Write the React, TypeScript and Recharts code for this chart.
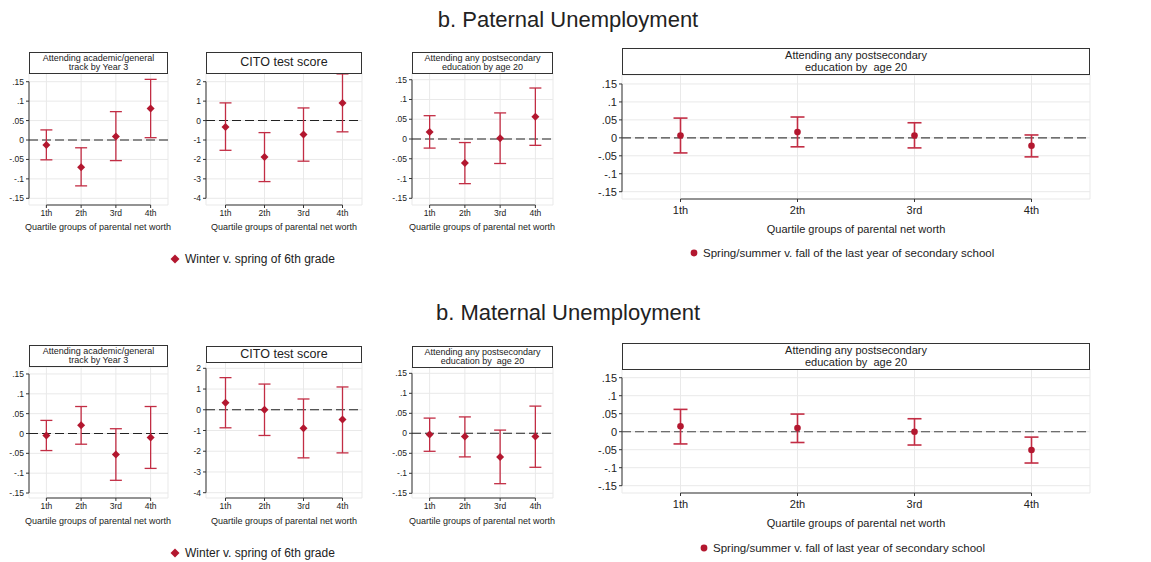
import React from 'react'
import {
  ComposedChart,
  Scatter,
  ErrorBar,
  XAxis,
  YAxis,
  CartesianGrid,
  ReferenceLine,
} from 'recharts'

const quartiles = ['1th', '2th', '3rd', '4th']
const shareTicks = [-0.15, -0.1, -0.05, 0, 0.05, 0.1, 0.15]
const citoTicks = [-4, -3, -2, -1, 0, 1, 2]

// b. Paternal unemployment
const patTrackEst = [-0.013, -0.07, 0.009, 0.081]
const patTrackLo = [-0.051, -0.118, -0.053, 0.006]
const patTrackHi = [0.026, -0.02, 0.073, 0.156]

const patCitoEst = [-0.33, -1.87, -0.72, 0.91]
const patCitoLo = [-1.53, -3.14, -2.09, -0.58]
const patCitoHi = [0.91, -0.62, 0.65, 2.4]

const patPostEst = [0.018, -0.061, 0.002, 0.056]
const patPostLo = [-0.023, -0.113, -0.062, -0.016]
const patPostHi = [0.059, -0.009, 0.066, 0.129]

const patAge20Est = [0.0065, 0.016, 0.0065, -0.022]
const patAge20Lo = [-0.042, -0.025, -0.028, -0.053]
const patAge20Hi = [0.055, 0.058, 0.042, 0.008]

// b. Maternal unemployment
const matTrackEst = [-0.005, 0.021, -0.053, -0.01]
const matTrackLo = [-0.043, -0.027, -0.118, -0.088]
const matTrackHi = [0.033, 0.068, 0.012, 0.068]

const matCitoEst = [0.34, 0.0, -0.89, -0.47]
const matCitoLo = [-0.87, -1.24, -2.32, -2.08]
const matCitoHi = [1.55, 1.24, 0.52, 1.1]

const matPostEst = [-0.003, -0.008, -0.059, -0.008]
const matPostLo = [-0.045, -0.059, -0.126, -0.085]
const matPostHi = [0.038, 0.041, 0.008, 0.068]

const matAge20Est = [0.015, 0.01, 0.0, -0.051]
const matAge20Lo = [-0.034, -0.03, -0.037, -0.087]
const matAge20Hi = [0.062, 0.049, 0.036, -0.015]

const MARK = '#b3172f'
const BAR = '#c22d44'
const FONT = '"Liberation Sans", Arial, sans-serif'
const TEXT = '#222'

const fmtShare = (v: number) => (v === 0 ? '0' : String(v).replace('0.', '.'))

const Diamond = (props: any) => {
  const { cx, cy } = props
  const r = 4
  return (
    <polygon
      points={`${cx},${cy - r} ${cx + r},${cy} ${cx},${cy + r} ${cx - r},${cy}`}
      fill={MARK}
    />
  )
}

const Dot = (props: any) => <circle cx={props.cx} cy={props.cy} r={3.3} fill={MARK} />

interface PanelProps {
  left: number
  top: number
  width: number
  height: number
  domain: [number, number]
  ticks: number[]
  est: number[]
  lo: number[]
  hi: number[]
  big?: boolean
}

function Panel({ left, top, width, height, domain, ticks, est, lo, hi, big }: PanelProps) {
  const data = est.map((v, i) => ({ x: i + 1, y: v, err: [v - lo[i], hi[i] - v] }))
  const yW = 32
  const xH = 24
  const fs = big ? 11 : 8.5
  const isShare = ticks === shareTicks
  return (
    <div style={{ position: 'absolute', left: left - yW, top }}>
      <ComposedChart
        width={yW + width + 2}
        height={height + xH}
        data={data}
        margin={{ top: 0, right: 2, bottom: 0, left: 0 }}
      >
        <CartesianGrid stroke="#e9e9e9" strokeWidth={1} />
        <XAxis
          type="number"
          dataKey="x"
          domain={[0.5, 4.5]}
          ticks={[1, 2, 3, 4]}
          interval={0}
          allowDataOverflow
          height={xH}
          axisLine={false}
          tickSize={3}
          tickMargin={big ? 4 : 2}
          tickLine={{ stroke: '#333' }}
          tick={{ fontSize: fs, fill: TEXT, fontFamily: FONT }}
          tickFormatter={(v: number) => quartiles[v - 1]}
        />
        <YAxis
          type="number"
          dataKey="y"
          domain={domain}
          ticks={ticks}
          interval={0}
          allowDataOverflow
          width={yW}
          axisLine={false}
          tickSize={3}
          tickLine={{ stroke: '#333' }}
          tick={{ fontSize: fs, fill: TEXT, fontFamily: FONT }}
          tickFormatter={isShare ? fmtShare : (v: number) => String(v)}
        />
        <ReferenceLine
          segment={[
            { x: 0.5, y: ticks[0] },
            { x: 0.5, y: ticks[ticks.length - 1] },
          ]}
          stroke="#333"
          ifOverflow="visible"
        />
        <ReferenceLine
          segment={[
            { x: 1, y: domain[0] },
            { x: 4, y: domain[0] },
          ]}
          stroke="#333"
          ifOverflow="visible"
        />
        <ReferenceLine y={0} stroke={big ? '#444' : '#222'} strokeDasharray="9 4" strokeWidth={1.1} />
        <Scatter dataKey="y" shape={big ? Dot : Diamond} isAnimationActive={false}>
          <ErrorBar
            dataKey="err"
            direction="y"
            width={big ? 7 : 6}
            stroke={BAR}
            strokeWidth={big ? 1.6 : 1.3}
          />
        </Scatter>
      </ComposedChart>
    </div>
  )
}

function Label({ x, y, size, children }: { x: number; y: number; size: number; children: React.ReactNode }) {
  return (
    <div
      style={{
        position: 'absolute',
        left: x,
        top: y,
        transform: 'translate(-50%, -50%)',
        fontSize: size,
        lineHeight: 1,
        whiteSpace: 'pre',
        color: TEXT,
        fontFamily: FONT,
      }}
    >
      {children}
    </div>
  )
}

function TitleBox({ left, top, width, height, size, lines }: { left: number; top: number; width: number; height: number; size: number; lines: string[] }) {
  return (
    <div
      style={{
        position: 'absolute',
        left,
        top,
        width,
        height,
        boxSizing: 'border-box',
        border: '1px solid #333',
        background: '#fff',
        display: 'flex',
        flexDirection: 'column',
        justifyContent: 'center',
        alignItems: 'center',
        fontSize: size,
        lineHeight: `${size * 1.05}px`,
        fontFamily: FONT,
        color: TEXT,
        whiteSpace: 'pre',
      }}
    >
      {lines.map((l) => (
        <div key={l}>{l}</div>
      ))}
    </div>
  )
}

function LegendItem({ x, y, text, circle, size }: { x: number; y: number; text: string; circle?: boolean; size: number }) {
  return (
    <div
      style={{
        position: 'absolute',
        left: x - 6,
        top: y - 8,
        height: 16,
        display: 'flex',
        alignItems: 'center',
        fontFamily: FONT,
        fontSize: size,
        color: TEXT,
        whiteSpace: 'nowrap',
      }}
    >
      <svg width={12} height={12} style={{ marginRight: circle ? 3 : 4 }}>
        {circle ? (
          <circle cx={6} cy={6} r={3.4} fill={MARK} />
        ) : (
          <polygon points="6,1.5 10.5,6 6,10.5 1.5,6" fill={MARK} />
        )}
      </svg>
      {text}
    </div>
  )
}

const quartileTitle = 'Quartile groups of parental net worth'

export default function App() {
  return (
    <div style={{ position: 'absolute', left: 0, top: 0, width: 1151, height: 562, background: '#fff', overflow: 'hidden' }}>
      <Label x={568} y={20} size={22}>b. Paternal Unemployment</Label>

      <Panel left={29} top={73} width={139} height={132} domain={[-0.1672, 0.1724]} ticks={shareTicks} est={patTrackEst} lo={patTrackLo} hi={patTrackHi} />
      <Panel left={206} top={73} width={156} height={132} domain={[-4.345, 2.448]} ticks={citoTicks} est={patCitoEst} lo={patCitoLo} hi={patCitoHi} />
      <Panel left={412} top={73} width={141} height={132} domain={[-0.167, 0.167]} ticks={shareTicks} est={patPostEst} lo={patPostLo} hi={patPostHi} />
      <Panel left={622} top={75} width={468} height={124} domain={[-0.1703, 0.175]} ticks={shareTicks} est={patAge20Est} lo={patAge20Lo} hi={patAge20Hi} big />

      <TitleBox left={29} top={52} width={139} height={22} size={9} lines={['Attending academic/general', 'track by Year 3']} />
      <TitleBox left={206} top={52} width={156} height={22} size={12.5} lines={['CITO test score']} />
      <TitleBox left={412} top={52} width={141} height={22} size={9} lines={['Attending any postsecondary', 'education by age 20']} />
      <TitleBox left={622} top={48} width={468} height={27} size={11} lines={['Attending any postsecondary', 'education by  age 20']} />

      <Label x={98} y={227} size={9}>{quartileTitle}</Label>
      <Label x={284} y={227} size={9}>{quartileTitle}</Label>
      <Label x={482} y={227} size={9}>{quartileTitle}</Label>
      <Label x={856} y={229} size={11}>{quartileTitle}</Label>

      <LegendItem x={175} y={259} text="Winter v. spring of 6th grade" size={12} />
      <LegendItem x={694} y={253} text="Spring/summer v. fall of the last year of secondary school" circle size={11.5} />

      <Label x={568} y={313} size={22}>b. Maternal Unemployment</Label>

      <Panel left={29} top={367} width={139} height={131} domain={[-0.1626, 0.1676]} ticks={shareTicks} est={matTrackEst} lo={matTrackLo} hi={matTrackHi} />
      <Panel left={206} top={362} width={156} height={136} domain={[-4.256, 2.304]} ticks={citoTicks} est={matCitoEst} lo={matCitoLo} hi={matCitoHi} />
      <Panel left={412} top={367} width={141} height={131} domain={[-0.1618, 0.1658]} ticks={shareTicks} est={matPostEst} lo={matPostLo} hi={matPostHi} />
      <Panel left={622} top={369} width={468} height={124} domain={[-0.1703, 0.1742]} ticks={shareTicks} est={matAge20Est} lo={matAge20Lo} hi={matAge20Hi} big />

      <TitleBox left={29} top={345} width={139} height={22} size={9} lines={['Attending academic/general', 'track by Year 3']} />
      <TitleBox left={206} top={346} width={156} height={17} size={12.5} lines={['CITO test score']} />
      <TitleBox left={412} top={346} width={141} height={22} size={9} lines={['Attending any postsecondary', 'education by  age 20']} />
      <TitleBox left={622} top={343} width={468} height={27} size={11} lines={['Attending any postsecondary', 'education by  age 20']} />

      <Label x={98} y={521} size={9}>{quartileTitle}</Label>
      <Label x={284} y={521} size={9}>{quartileTitle}</Label>
      <Label x={482} y={521} size={9}>{quartileTitle}</Label>
      <Label x={856} y={523} size={11}>{quartileTitle}</Label>

      <LegendItem x={175} y={553} text="Winter v. spring of 6th grade" size={12} />
      <LegendItem x={704} y={548} text="Spring/summer v. fall of last year of secondary school" circle size={11.5} />
    </div>
  )
}
